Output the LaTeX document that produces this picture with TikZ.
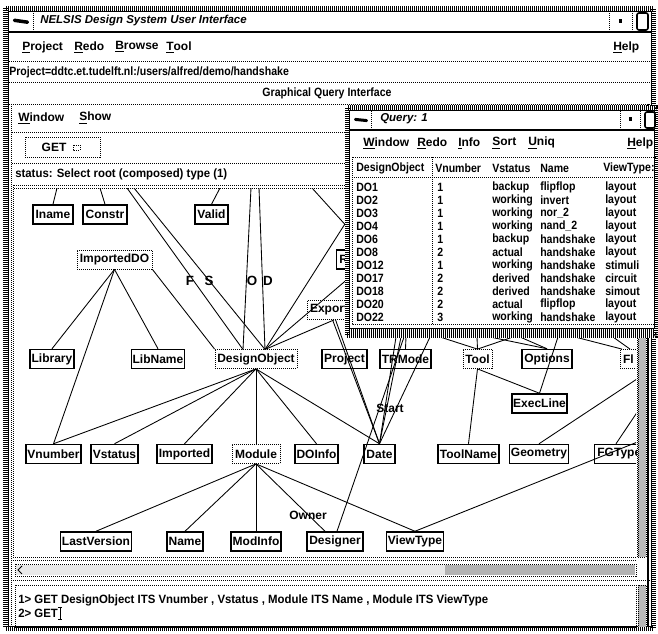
\documentclass[tikz,border=0pt]{standalone}
\usepackage{fontspec}
\newfontfamily\ui{Liberation Sans}
\newfontfamily\uin{Liberation Sans}[FakeStretch=0.88]
\newfontfamily\uim{Liberation Sans}[FakeStretch=0.95]
\usetikzlibrary{calc}
\newcommand\mn[1]{\underline{#1}}
\begin{document}
\begin{tikzpicture}[x=0.75pt,y=-0.75pt,
  txt/.style={font=\ui\bfseries\fontsize{9}{10}\selectfont, inner sep=0pt},
  ntxt/.style={font=\uin\bfseries\fontsize{9}{10}\selectfont, inner sep=0pt},
  mtxt/.style={font=\uim\bfseries\fontsize{9}{10}\selectfont, inner sep=0pt},
  ttl/.style={font=\ui\bfseries\itshape\fontsize{8.6}{10}\selectfont, inner sep=0pt},
  box/.style={txt, draw, line width=1.1pt, minimum height=14.25pt, inner xsep=1pt},
  dbox/.style={txt, draw, line width=0.6pt, dash pattern=on 0.75pt off 0.75pt, minimum height=14.25pt, inner xsep=1pt},
  link/.style={line width=0.65pt},
  dots/.style={line width=0.6pt, dash pattern=on 0.75pt off 0.75pt},
  dither/.style={line width=3.75pt, dash pattern=on 0.75pt off 0.75pt},
  lbl/.style={font=\ui\bfseries\fontsize{10}{11}\selectfont, inner sep=0pt},
]
\useasboundingbox (0,0) rectangle (658,634);
\fill[white] (0,0) rectangle (658,634);

% ---------- main window frame ----------
\draw[dither] (5.5,8.5) rectangle (653.5,628.5);
\draw[line width=0.5pt] (8,11) rectangle (651,626);

% title bar
\draw[line width=1.5pt] (8,32) -- (651,32);
\draw[dots] (33,11) -- (33,32);
\fill[rounded corners=1pt, rotate around={-8:(21,21)}] (13,19.5) rectangle (29,23);
\node[ttl, anchor=west] (title) at (40,21) {NELSIS Design System User Interface};
\draw[dots] (609,11) -- (609,32);
\draw[dots] (632,11) -- (632,32);
\fill (619,19) rectangle (622,23);
\draw[line width=1.2pt, rounded corners=1.5pt] (637,13) rectangle (648,30);

% menu bar
\node[txt, anchor=west] (mProject) at (22,47) {\mn{P}roject};
\node[txt, anchor=west] (mRedo) at (74,47) {\mn{R}edo};
\node[txt, anchor=west] (mBrowse) at (115,47) {\mn{B}rowse};
\node[txt, anchor=west] (mTool) at (166,47) {\mn{T}ool};
\node[txt, anchor=west] (mHelp) at (613,47) {\mn{H}elp};
\draw[dots] (9,61) -- (650,61);
\node[ntxt, anchor=west] (path) at (9,72) {Project=ddtc.et.tudelft.nl:/users/alfred/demo/handshake};
\draw[dots] (9,82) -- (650,82);
\node[ntxt] (gqi) at (327,93) {Graphical Query Interface};
\draw[dots] (9,104) -- (650,104);

% left pane
\draw[dots] (11.5,104) -- (11.5,626);
\node[txt, anchor=west] (mWindow) at (18,118) {\mn{W}indow};
\node[txt, anchor=west] (mShow) at (79,118) {\mn{S}how};
\draw[dots] (12,132) -- (650,132);
\node[dots, draw, minimum width=56.25pt, minimum height=15pt] (getbox) at (62.5,147) {};
\node[txt] (get) at (54,147) {GET};
\draw[dots] (73,145) rectangle (80,150);
\draw[dots] (12,163) -- (650,163);
\node[mtxt, anchor=west] (status) at (15,174) {status: Select root (composed) type (1)};

% canvas frame
\draw[dots] (13,185) rectangle (637,557);
\draw[dots] (14,188) -- (636,188);

% ---------- query graph ----------
\begin{scope}
\clip (14,189) rectangle (636,556);

\node[box, minimum width=30pt] (Iname) at (53,214.5) {Iname};
\node[box, minimum width=33pt] (Constr) at (105,214.5) {Constr};
\node[box, minimum width=24.75pt] (Valid) at (211.5,214.5) {Valid};
\node[dbox, minimum width=56.25pt] (ImportedDO) at (114.5,259.5) {ImportedDO};
\node[box, anchor=west, text width=20pt, align=left, inner xsep=2pt] (R) at (336,259.5) {R};
\node[dbox, anchor=west, text width=36pt, align=left, inner xsep=2pt] (Export) at (307,310) {Export};

\node[box, minimum width=33pt] (Library) at (52,359) {Library};
\node[box, minimum width=39pt] (LibName) at (158,359) {LibName};
\node[dbox, minimum width=61.5pt] (DesignObject) at (256,359) {DesignObject};
\node[box, minimum width=33.75pt] (Project) at (344.5,359) {Project};
\node[box, minimum width=38.25pt] (TRMode) at (405.5,359) {TRMode};
\node[dbox, minimum width=21.75pt] (Tool) at (477.5,359) {Tool};
\node[box, minimum width=37.5pt] (Options) at (547,359) {Options};
\node[dbox, anchor=west, text width=24pt, align=left, inner xsep=2pt] (Fl) at (620,359) {Fl};
\node[box, minimum width=39.75pt] (ExecLine) at (539.5,403.5) {ExecLine};

\node[box, minimum width=41.25pt] (Vnumber) at (53.5,454) {Vnumber};
\node[box, minimum width=35.25pt] (Vstatus) at (114.5,454) {Vstatus};
\node[box, minimum width=41.25pt] (Imported) at (184.5,454) {Imported};
\node[dbox, minimum width=36pt] (Module) at (256,454) {Module};
\node[box, minimum width=32.25pt] (DOInfo) at (316.5,454) {DOInfo};
\node[box, minimum width=23.25pt] (Date) at (379.5,454) {Date};
\node[box, minimum width=45.75pt] (ToolName) at (468.5,454) {ToolName};
\node[box, minimum width=43.5pt] (Geometry) at (539,454) {Geometry};
\node[box, anchor=west, text width=40pt, align=left, inner xsep=2pt] (FGType) at (594,454) {FGType};

\node[box, minimum width=52.5pt] (LastVersion) at (96,541.5) {LastVersion};
\node[box, minimum width=27pt] (Name) at (185,541.5) {Name};
\node[box, minimum width=37.5pt] (ModInfo) at (256,541.5) {ModInfo};
\node[box, minimum width=42pt] (Designer) at (335,541.5) {Designer};
\node[box, minimum width=42pt] (ViewType) at (415,541.5) {ViewType};

% relation labels
\node[lbl] (lF) at (190,281) {F};
\node[lbl] (lS) at (209,281) {S};
\node[lbl] (lO) at (252,281) {O};
\node[lbl] (lD) at (268,281) {D};
\node[txt] (lStart) at (390,408) {Start};
\node[txt] (lOwner) at (308,515) {Owner};

% free ends of connectors leaving the visible area
\coordinate (t1) at (57,188);
\coordinate (t2) at (100,188);
\coordinate (t3) at (220,188);
\coordinate (t4) at (127,188);
\coordinate (t5) at (134,188);
\coordinate (t6) at (251,188);
\coordinate (t7) at (259,188);
\coordinate (t8) at (312,188);
\coordinate (q1) at (350,230);
\coordinate (q2) at (350,216);
\coordinate (q3) at (350,277);
\coordinate (b1) at (396,337);
\coordinate (b2) at (401,337);
\coordinate (b3) at (406,337);
\coordinate (b4) at (430,337);
\coordinate (b5) at (440,337);
\coordinate (b6) at (477,337);
\coordinate (b7) at (513,337);
\coordinate (b8) at (490,337);
\coordinate (b9) at (520,337);
\coordinate (b10) at (558,337);
\coordinate (b11) at (575,337);
\coordinate (b12) at (613,337);
\coordinate (b13) at (404,337);
\coordinate (r1) at (640,377);
\coordinate (r2) at (640,408);
\coordinate (r3) at (640,441);
\coordinate (DOl) at (243,349.5);
\coordinate (DOr) at (265,349.5);

\draw[link] (t1) -- (Iname.north);
\draw[link] (t2) -- (Constr.north);
\draw[link] (t3) -- (Valid.north);
\draw[link] (t4) -- (DOl);
\draw[link] (t6) -- (DOl);
\draw[link] (t5) -- (DOr);
\draw[link] (t7) -- (DOr);
\draw[link] (q2) -- (DOr);
\draw[link] (q3) -- (DOr);
\draw[link] (t8) -- (q1);
\draw[link] (Export.south) -- (DOr);
\draw[link] (ImportedDO.south east) -- (DesignObject.north west);

\draw[link] (ImportedDO.south) -- (Library.north);
\draw[link] (ImportedDO.south) -- (LibName.north);
\draw[link] (ImportedDO.south) -- (Vnumber.north);

\draw[link] (DesignObject.south) -- (Vnumber.north);
\draw[link] (DesignObject.south) -- (Vstatus.north);
\draw[link] (DesignObject.south) -- (Imported.north);
\draw[link] (DesignObject.south) -- (Module.north);
\draw[link] (DesignObject.south) -- (DOInfo.north);
\draw[link] (DesignObject.south) -- (Date.north);

\draw[link] ($(Export.south)+(-1.5,0)$) -- (Date.north);
\draw[link] ($(Export.south)+(1.5,0)$) -- (Date.north);
\draw[link] (b1) -- (Date.north);
\draw[link] (b2) -- (Date.north);
\draw[link] (b4) -- (Date.north);
\draw[link] (b13) -- ($(Designer.north)+(2,0)$);
\draw[link] (b3) -- (TRMode.north);

\draw[link] (b5) -- (Tool.north);
\draw[link] (b6) -- (Tool.north);
\draw[link] (b7) -- (Tool.north);
\draw[link] (b8) -- (Options.north);
\draw[link] (b9) -- (Options.north);
\draw[link] (b10) -- (ExecLine.north);
\draw[link] (Tool.south) -- (ExecLine.north);
\draw[link] (Tool.south) -- (ToolName.north);
\draw[link] (b11) -- ($(Fl.north west)+(2,0)$);
\draw[link] (b12) -- ($(Fl.north west)+(10,0)$);
\draw[link] (r1) -- (Geometry.north);
\draw[link] (r2) -- ($(FGType.north west)+(22,0)$);
\draw[link] (r3) -- (ViewType.north);

\draw[link] (Module.south) -- (LastVersion.north);
\draw[link] (Module.south) -- (Name.north);
\draw[link] (Module.south) -- (ModInfo.north);
\draw[link] (Module.south) -- ($(Designer.north)+(-10,0)$);
\draw[link] (Module.south) -- (ViewType.north);
\end{scope}

% scroll bars
\draw[dots] (13,560) -- (637,560);
\fill[gray!18] (16,565) rectangle (445,575);
\fill[gray!60] (445,565) rectangle (635,575);
\draw[dots] (15,564) rectangle (636,576);
\draw[line width=0.6pt] (22,566) -- (18,570) -- (22,574);
\draw[dots] (13,580) -- (650,580);
\fill[gray!55] (638,189) rectangle (646,557);
\draw[dots] (638,189) rectangle (646,557);
\draw[line width=0.8pt] (648,104) -- (648,626);

% command area
\draw[dots] (15,585) rectangle (636,627);
\fill[gray!55] (638,585) rectangle (646,627);
\draw[dots] (638,585) rectangle (646,627);
\node[mtxt, anchor=west] (cmd1) at (18,600) {1> GET DesignObject ITS Vnumber , Vstatus , Module ITS Name , Module ITS ViewType};
\node[mtxt, anchor=west] (cmd2) at (18,613) {2> GET};
\draw[line width=0.6pt] ($(cmd2.east)+(2,-6)$) -- ($(cmd2.east)+(2,6)$)
  ($(cmd2.east)+(0,-6)$) -- ($(cmd2.east)+(4,-6)$)
  ($(cmd2.east)+(0,6)$) -- ($(cmd2.east)+(4,6)$);

% ---------- query result window ----------
\fill[white] (345,106) rectangle (658,338);
\draw[dither] (347,108) rectangle (656,336);
\draw[dither] (349,331) -- (654,331);
\draw[line width=0.5pt] (349.5,110.5) rectangle (654,328);
\draw[dots] (371,111) -- (371,130);
\fill[rounded corners=1pt, rotate around={-6:(361,120)}] (354,118.5) rectangle (368,121.5);
\node[ttl, anchor=west] (qtitle) at (380,119) {Query: 1};
\draw[dots] (620,111) -- (620,130);
\draw[dots] (640,111) -- (640,130);
\fill (629,117) rectangle (632,121);
\draw[line width=1.2pt, rounded corners=1.5pt] (645,112) rectangle (655,128);
\draw[line width=1.5pt] (349,130.5) -- (655,130.5);

\node[txt, anchor=west] (qWindow) at (363,143) {\mn{W}indow};
\node[txt, anchor=west] (qRedo) at (417,143) {\mn{R}edo};
\node[txt, anchor=west] (qInfo) at (458,143) {\mn{I}nfo};
\node[txt, anchor=west] (qSort) at (492,143) {\mn{S}ort};
\node[txt, anchor=west] (qUniq) at (528,143) {\mn{U}niq};
\node[txt, anchor=west] (qHelp) at (627,143) {\mn{H}elp};

\draw[dots] (352,157) rectangle (656,324);
\draw[dots] (352,177) -- (656,177);
\draw[dots] (432,157) -- (432,324);
\node[ntxt, anchor=west] (hDO) at (356,168) {DesignObject};
\node[ntxt, anchor=west] (hVn) at (435,168) {Vnumber};
\node[ntxt, anchor=west] (hVs) at (492,168) {Vstatus};
\node[ntxt, anchor=west] (hNa) at (540,168) {Name};
\node[ntxt, anchor=west] (hVt) at (603,168) {ViewType:};
\foreach \d/\n/\s/\m/\v [count=\i from 0] in {
  DO1/1/backup/flipflop/layout,
  DO2/1/working/invert/layout,
  DO3/1/working/nor\_2/layout,
  DO4/1/working/nand\_2/layout,
  DO6/1/backup/handshake/layout,
  DO8/2/actual/handshake/layout,
  DO12/1/working/handshake/stimuli,
  DO17/2/derived/handshake/circuit,
  DO18/2/derived/handshake/simout,
  DO20/2/actual/flipflop/layout,
  DO22/3/working/handshake/layout}{
  \node[ntxt, anchor=west] (rDO\i) at (356,{187+13*\i}) {\d};
  \node[ntxt, anchor=west] (rVn\i) at (437,{187+13*\i}) {\n};
  \node[ntxt, anchor=west] (rVs\i) at (492,{187+13*\i}) {\s};
  \node[ntxt, anchor=west] (rNa\i) at (540,{187+13*\i}) {\m};
  \node[ntxt, anchor=west] (rVt\i) at (605,{187+13*\i}) {\v};
}
\end{tikzpicture}
\end{document}
